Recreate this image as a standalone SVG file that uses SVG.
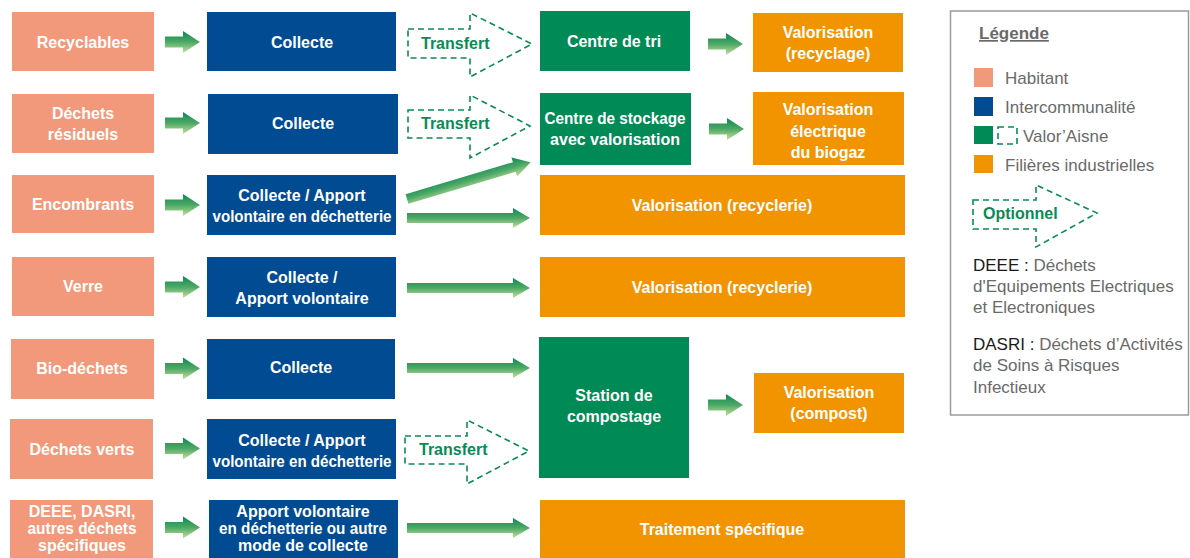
<svg xmlns="http://www.w3.org/2000/svg" width="1190" height="558" viewBox="0 0 1190 558">
<defs>
<linearGradient id="ag" x1="0" y1="0" x2="0" y2="1">
<stop offset="0" stop-color="#0a8a4f"/>
<stop offset="0.5" stop-color="#4ea867"/>
<stop offset="1" stop-color="#c4e29a"/>
</linearGradient>
<path id="sa" d="M0,-5.5 L18,-5.5 L18,-11 L35,0 L18,11 L18,5.5 L0,5.5 Z"/>
<path id="ba" d="M0,-5 L106,-5 L106,-10 L123,0 L106,10 L106,5 L0,5 Z"/>
</defs>
<style>
.hab{fill:#f1997a}
.int{fill:#004b92}
.val{fill:#008a56}
.fil{fill:#f29400}
.t{font-family:"Liberation Sans",Arial,sans-serif;font-weight:bold;font-size:16px;fill:#fff;text-anchor:middle}
.tg{font-family:"Liberation Sans",Arial,sans-serif;font-weight:bold;font-size:16px;fill:#0a8a55}
.dash{fill:none;stroke:#0a8a55;stroke-width:1.6;stroke-dasharray:6,4}
.arr{fill:url(#ag)}
.lg{font-family:"Liberation Sans",Arial,sans-serif;font-size:17px;fill:#6a6a6a}
.lb{fill:#1a1a1a}
</style>
<rect width="1190" height="558" fill="#fff"/>

<g id="connectors">
<use href="#sa" class="arr" x="165" y="42"/>
<use href="#sa" class="arr" x="165" y="123"/>
<use href="#sa" class="arr" x="165" y="205"/>
<use href="#sa" class="arr" x="165" y="287"/>
<use href="#sa" class="arr" x="165" y="368.5"/>
<use href="#sa" class="arr" x="165" y="448.5"/>
<use href="#sa" class="arr" x="165" y="527.5"/>
<use href="#sa" class="arr" x="708" y="44"/>
<use href="#sa" class="arr" x="709" y="129"/>
<use href="#sa" class="arr" x="708" y="405"/>
<use href="#ba" class="arr" x="407" y="218"/>
<use href="#ba" class="arr" x="407" y="288"/>
<use href="#ba" class="arr" x="407" y="368"/>
<use href="#ba" class="arr" x="407" y="528"/>
<path class="arr" transform="translate(407,199) rotate(-16.6)" d="M0,-5 L112,-5 L112,-10 L129,0 L112,10 L112,5 L0,5 Z"/>
<g id="transfert1">
<path class="dash" d="M408,29 L470,29 L470,13 L532,44 L470,77 L470,58 L408,58 Z"/>
<text class="tg" x="421" y="49">Transfert</text>
</g>
<g id="transfert2">
<path class="dash" d="M408,110 L470,110 L470,95 L530,126 L470,158 L470,138 L408,138 Z"/>
<text class="tg" x="421" y="129">Transfert</text>
</g>
<g id="transfert3">
<path class="dash" d="M405,436 L467,436 L467,420 L529,451 L467,484 L467,464 L405,464 Z"/>
<text class="tg" x="419" y="455">Transfert</text>
</g>
</g>

<g id="recyclables"><rect class="hab" x="12" y="12" width="142" height="59"/><text class="t" x="83" y="48">Recyclables</text></g>
<g id="residuels"><rect class="hab" x="12" y="94" width="142" height="59"/><text class="t" x="83" y="119">Déchets</text><text class="t" x="83" y="140">résiduels</text></g>
<g id="encombrants"><rect class="hab" x="12" y="175" width="142" height="58"/><text class="t" x="83" y="210">Encombrants</text></g>
<g id="verre"><rect class="hab" x="12" y="257" width="142" height="59"/><text class="t" x="83" y="292">Verre</text></g>
<g id="biodechets"><rect class="hab" x="11" y="339" width="143" height="60"/><text class="t" x="82" y="374">Bio-déchets</text></g>
<g id="dechetsverts"><rect class="hab" x="10" y="419" width="143" height="60"/><text class="t" x="82" y="455">Déchets verts</text></g>
<g id="deee"><rect class="hab" x="10" y="500" width="143" height="58"/><text class="t" x="82" y="517">DEEE, DASRI,</text><text class="t" x="82" y="534" textLength="109" lengthAdjust="spacingAndGlyphs">autres déchets</text><text class="t" x="82" y="551">spécifiques</text></g>

<g id="collecte1"><rect class="int" x="207" y="12" width="189" height="59"/><text class="t" x="302" y="48">Collecte</text></g>
<g id="collecte2"><rect class="int" x="208" y="94" width="190" height="60"/><text class="t" x="303" y="129">Collecte</text></g>
<g id="collecte3"><rect class="int" x="207" y="175" width="189" height="60"/><text class="t" x="302" y="201">Collecte / Apport</text><text class="t" x="302" y="222" textLength="179" lengthAdjust="spacingAndGlyphs">volontaire en déchetterie</text></g>
<g id="collecte4"><rect class="int" x="207" y="257" width="189" height="60"/><text class="t" x="302" y="283">Collecte /</text><text class="t" x="302" y="304">Apport volontaire</text></g>
<g id="collecte5"><rect class="int" x="207" y="339" width="188" height="60"/><text class="t" x="301" y="373">Collecte</text></g>
<g id="collecte6"><rect class="int" x="207" y="419" width="189" height="60"/><text class="t" x="302" y="446">Collecte / Apport</text><text class="t" x="302" y="467" textLength="179" lengthAdjust="spacingAndGlyphs">volontaire en déchetterie</text></g>
<g id="apport7"><rect class="int" x="209" y="500" width="189" height="58"/><text class="t" x="303" y="517">Apport volontaire</text><text class="t" x="303" y="534" textLength="168" lengthAdjust="spacingAndGlyphs">en déchetterie ou autre</text><text class="t" x="303" y="551">mode de collecte</text></g>

<g id="centretri"><rect class="val" x="540" y="11" width="150" height="60"/><text class="t" x="614" y="47">Centre de tri</text></g>
<g id="centrestockage"><rect class="val" x="540" y="93" width="151" height="72"/><text class="t" x="615" y="124" textLength="141" lengthAdjust="spacingAndGlyphs">Centre de stockage</text><text class="t" x="615" y="145">avec valorisation</text></g>
<g id="compostage"><rect class="val" x="539" y="337" width="150" height="141"/><text class="t" x="614" y="401">Station de</text><text class="t" x="614" y="422">compostage</text></g>

<g id="valrecyclage"><rect class="fil" x="753" y="13" width="150" height="59"/><text class="t" x="828" y="38">Valorisation</text><text class="t" x="828" y="59">(recyclage)</text></g>
<g id="valbiogaz"><rect class="fil" x="753" y="92" width="151" height="73"/><text class="t" x="828" y="115">Valorisation</text><text class="t" x="828" y="137">électrique</text><text class="t" x="828" y="158">du biogaz</text></g>
<g id="valrecyclerie1"><rect class="fil" x="540" y="175" width="365" height="60"/><text class="t" x="722" y="211">Valorisation (recyclerie)</text></g>
<g id="valrecyclerie2"><rect class="fil" x="540" y="257" width="365" height="60"/><text class="t" x="722" y="293">Valorisation (recyclerie)</text></g>
<g id="valcompost"><rect class="fil" x="754" y="373" width="150" height="60"/><text class="t" x="829" y="398">Valorisation</text><text class="t" x="829" y="419">(compost)</text></g>
<g id="traitement"><rect class="fil" x="540" y="500" width="365" height="58"/><text class="t" x="722" y="535">Traitement spécifique</text></g>

<g id="legende">
<rect x="950.5" y="11" width="238" height="404" fill="#fff" stroke="#9a9a9a" stroke-width="1.5"/>
<text class="lg" x="979" y="39" font-size="16" font-weight="bold" fill="#5a5a5a" text-decoration="underline">Légende</text>
<rect class="hab" x="974" y="68" width="19" height="19"/>
<text class="lg" x="1005" y="84">Habitant</text>
<rect class="int" x="974" y="97" width="19" height="19"/>
<text class="lg" x="1005" y="113">Intercommunalité</text>
<rect class="val" x="974" y="126" width="19" height="18"/>
<rect class="dash" x="998" y="127" width="19" height="17" stroke-dasharray="4,3"/>
<text class="lg" x="1023" y="142">Valor’Aisne</text>
<rect class="fil" x="974" y="155" width="19" height="18"/>
<text class="lg" x="1005" y="171">Filières industrielles</text>
<path class="dash" d="M973,200 L1036,200 L1036,185 L1097,213 L1036,247 L1036,229 L973,229 Z"/>
<text class="tg" x="983" y="219">Optionnel</text>
<text class="lg" x="973" y="271"><tspan class="lb">DEEE :</tspan> Déchets</text>
<text class="lg" x="973" y="292">d'Equipements Electriques</text>
<text class="lg" x="973" y="313">et Electroniques</text>
<text class="lg" x="973" y="350"><tspan class="lb">DASRI :</tspan> Déchets d’Activités</text>
<text class="lg" x="973" y="371">de Soins à Risques</text>
<text class="lg" x="973" y="393">Infectieux</text>
</g>
</svg>
